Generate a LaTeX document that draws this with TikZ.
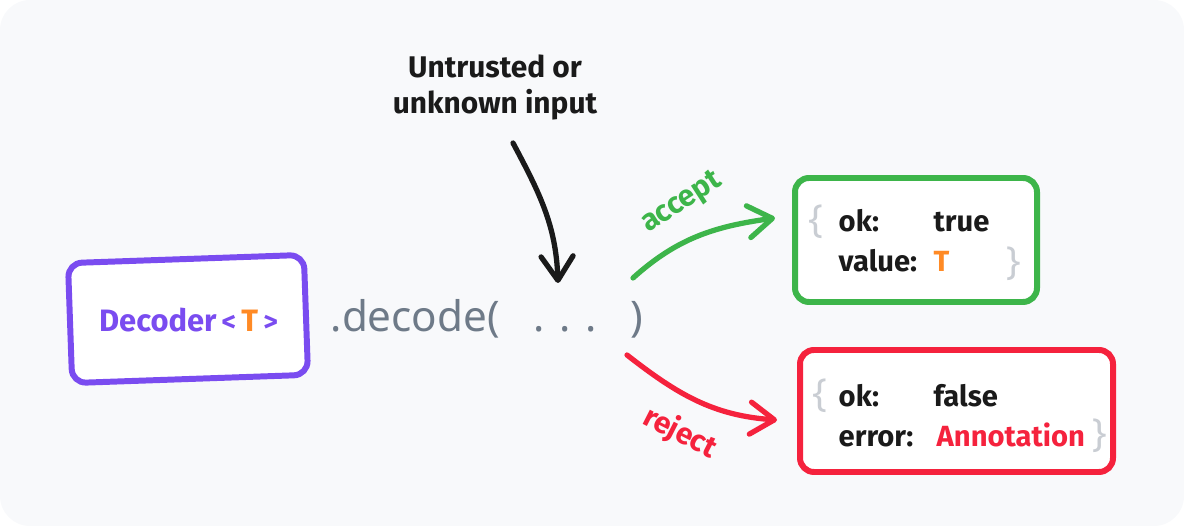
\documentclass[tikz,border=0pt]{standalone}
\usepackage{fontspec}
\setmainfont{Fira Sans}
\newfontfamily\codefont{Noto Sans}
\usetikzlibrary{arrows.meta,positioning}

\definecolor{bgfill}{HTML}{F8F9FB}
\definecolor{decpurple}{HTML}{7A4CF0}
\definecolor{torange}{HTML}{FF8A25}
\definecolor{okgreen}{HTML}{3DB54A}
\definecolor{errred}{HTML}{F5223D}
\definecolor{codegray}{HTML}{6E7A88}
\definecolor{bracegray}{HTML}{C9CDD3}
\definecolor{inkblack}{HTML}{1A1A1A}

\begin{document}
\begin{tikzpicture}
	\tikzset{mybox/.style={draw, line width=1.7pt, rounded corners=0.14cm, fill=white, inner sep=0pt},
		myarrow/.style={line width=1.5pt, line cap=round, -{Straight Barb[length=2.4mm,width=3.2mm,line cap=round,line join=round]}},
		hand/.style={font=\bfseries\fontsize{8.5}{10.5}\selectfont, text=inkblack},
		boxtext/.style={font=\bfseries\fontsize{8.3}{10}\selectfont, text=inkblack, anchor=base west, inner sep=0pt},
		mybrace/.style={font=\codefont\fontsize{11}{12}\selectfont, text=bracegray, inner sep=0pt}}
	\useasboundingbox (0,0) rectangle (11.84,5.26);
	\fill[bgfill, rounded corners=0.3cm] (0,0) rectangle (11.84,5.26);

	% decoder box and call
	\draw (1.88,2.07) node [mybox, draw=decpurple, minimum width=2.36cm, minimum height=1.2cm, rotate=2] (DEC) {};
	\draw (1.885,1.94) node [hand, font=\bfseries\fontsize{8.8}{11}\selectfont, text=decpurple, anchor=base, inner sep=0pt] (DECtxt) {Decoder\,{\fontsize{8}{9}\selectfont<}\,\textcolor{torange}{T}\,{\fontsize{8}{9}\selectfont>}};
	\draw (3.30,1.94) node [anchor=base west, inner sep=0pt, font=\codefont\fontsize{12}{14}\selectfont, text=codegray] (CALL) {.decode(\hspace{0.8em}.\hspace{0.35em}.\hspace{0.35em}.\hspace{0.8em})};

	% input
	\draw (4.95,4.12) node [hand, anchor=base, align=center, inner sep=0pt] (INP) {Untrusted or\\unknown input};

	% result boxes
	\draw (9.16,2.86) node [mybox, draw=okgreen, minimum width=2.42cm, minimum height=1.24cm] (OK) {};
	\draw (9.565,1.15) node [mybox, draw=errred, minimum width=3.13cm, minimum height=1.22cm] (ERR) {};

	\draw (8.16,3.04) node [mybrace] (OKopen) {\{};
	\draw (8.38,2.94) node [boxtext] (OKkey1) {ok:};
	\draw (9.33,2.94) node [boxtext] (OKval1) {true};
	\draw (8.38,2.54) node [boxtext] (OKkey2) {value:};
	\draw (9.33,2.54) node [boxtext, text=torange] (OKval2) {T};
	\draw (10.14,2.62) node [mybrace] (OKclose) {\}};

	\draw (8.20,1.30) node [mybrace] (ERRopen) {\{};
	\draw (8.38,1.19) node [boxtext] (ERRkey1) {ok:};
	\draw (9.33,1.19) node [boxtext] (ERRval1) {false};
	\draw (8.38,0.79) node [boxtext] (ERRkey2) {error:};
	\draw (9.36,0.79) node [boxtext, text=errred] (ERRval2) {Annotation};
	\draw (11.00,0.90) node [mybrace] (ERRclose) {\}};

	% arrows
	\coordinate (INPend) at (5.13,3.83);
	\coordinate (DOTS) at (5.58,2.43);
	\coordinate (ACCstart) at (6.33,2.48);
	\coordinate (REJstart) at (6.27,1.71);

	\draw [myarrow, inkblack] (INPend) to[out=-62, in=92] (DOTS);
	\draw [myarrow, okgreen] (ACCstart) to[out=42, in=188] ([shift={(-0.17,0.22)}]OK.west);
	\draw [myarrow, errred] (REJstart) to[out=-38, in=176] ([shift={(-0.2,-0.09)}]ERR.west);

	\draw (6.82,3.23) node [hand, text=okgreen, rotate=33] (ACC) {accept};
	\draw (6.80,0.93) node [hand, text=errred, rotate=-27] (REJ) {reject};
\end{tikzpicture}
\end{document}
